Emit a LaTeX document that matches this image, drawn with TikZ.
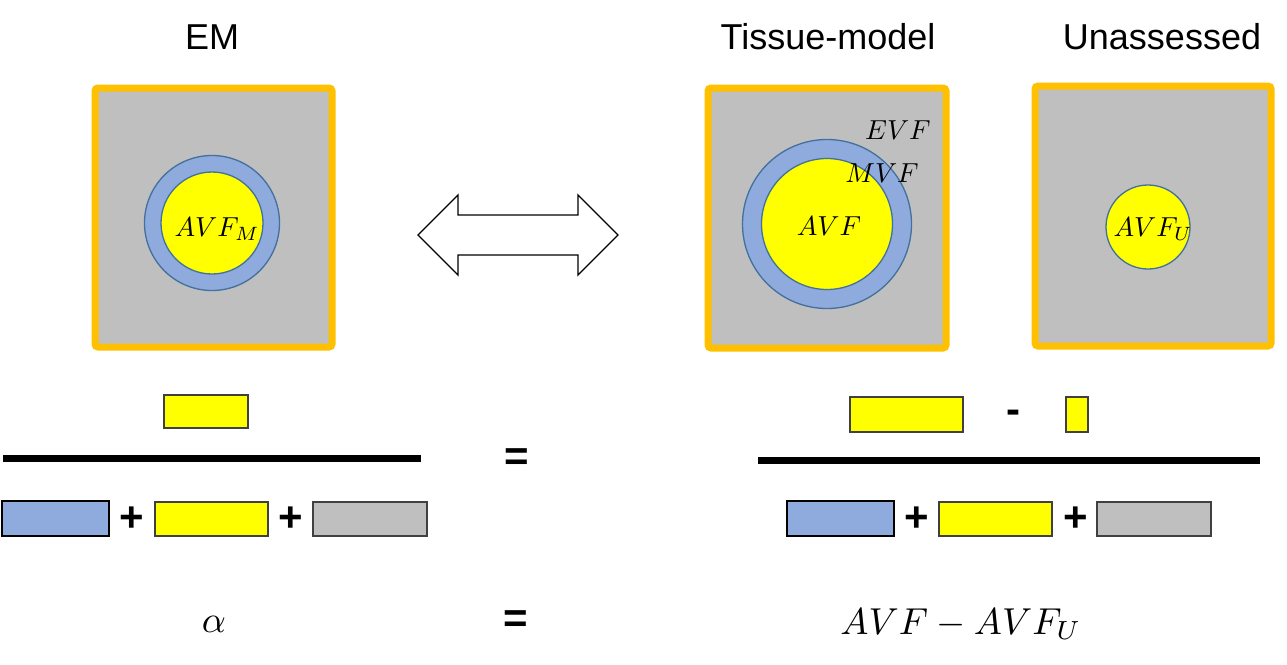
\documentclass[tikz,border=0pt]{standalone}
\usepackage{fontspec}
\setmainfont{Liberation Sans}
\begin{document}
\begin{tikzpicture}[x=1pt,y=-1pt,
  frame/.style={draw=orangeF,line width=7pt,fill=grayF,rounded corners=3pt},
  ring/.style={circle,draw=ringline,line width=1.3pt,fill=blueF,inner sep=0pt},
  core/.style={circle,draw=ringline,line width=1.3pt,fill=yellowF,inner sep=0pt},
  title/.style={font=\fontsize{36}{40}\selectfont},
  lbl/.style={scale=2.75,inner sep=0pt},
  bigm/.style={scale=3.75,inner sep=0pt},
  sym/.style={font=\fontsize{42}{46}\selectfont\bfseries,inner sep=0pt},
  bar/.style={line width=7pt},
  blk/.style={draw=boxline,line width=1.2pt},
]
\definecolor{orangeF}{HTML}{FFC000}
\definecolor{grayF}{HTML}{BFBFBF}
\definecolor{blueF}{HTML}{8FAADC}
\definecolor{yellowF}{HTML}{FFFF00}
\definecolor{ringline}{HTML}{41719C}
\definecolor{boxline}{HTML}{404040}
\useasboundingbox (0,0) rectangle (1287,664);

% titles
\node[title] (tEM) at (212,37) {EM};
\node[title] (tTM) at (828,37) {Tissue-model};
\node[title] (tUN) at (1162,37) {Unassessed};

% EM panel
\draw[frame] (95,88) rectangle (332,347);
\node[ring,minimum size=135pt] (emo) at (212,223) {};
\node[core,minimum size=102pt] (emi) at (212,223) {};
\node[lbl] (emt) at (217,229) {$AVF_M$};

% Tissue-model panel
\draw[frame] (708,88) rectangle (946,348);
\node[ring,minimum size=169pt] (tmo) at (827,224) {};
\node[core,minimum size=131pt] (tmi) at (827,224) {};
\node[lbl] (tma) at (829,226) {$AVF$};
\node[lbl] (tme) at (898,130) {$EVF$};
\node[lbl] (tmm) at (882,173) {$MVF$};

% Unassessed panel
\draw[frame] (1035,86) rectangle (1271,346);
\node[core,minimum size=84pt] (uni) at (1148,227) {};
\node[lbl] (unt) at (1153,229) {$AVF_U$};

% double arrow
\draw[line width=1.3pt,fill=white,line join=miter]
  (418,235) -- (458,195) -- (458,215) -- (578,215) -- (578,195) -- (618,235)
  -- (578,275) -- (578,255) -- (458,255) -- (458,275) -- cycle;

% left fraction
\draw[blk,fill=yellowF] (164,395) rectangle (248,428);
\draw[bar] (3,458) -- (421,458);
\draw[blk,draw=black,fill=blueF] (2,501) rectangle (109,536);
\node[sym] (lp1) at (132,519) {+};
\draw[blk,fill=yellowF] (155,502) rectangle (268,536);
\node[sym] (lp2) at (291,519) {+};
\draw[blk,fill=grayF] (313,502) rectangle (427,536);

\node[sym] (eq1) at (517,460) {=};

% right fraction
\draw[blk,fill=yellowF] (850,397) rectangle (963,432);
\node[sym] (mn) at (1013,417) {-};
\draw[blk,fill=yellowF] (1066,397) rectangle (1088,432);
\draw[bar] (758,460) -- (1260,460);
\draw[blk,draw=black,fill=blueF] (787,501) rectangle (894,536);
\node[sym] (rp1) at (917,519) {+};
\draw[blk,fill=yellowF] (939,502) rectangle (1052,536);
\node[sym] (rp2) at (1076,519) {+};
\draw[blk,fill=grayF] (1097,502) rectangle (1211,536);

% bottom equation
\node[bigm] (al) at (214,624) {$\alpha$};
\node[sym] (eq2) at (516,622) {=};
\node[bigm] (rhs) at (961,624) {$AVF-AVF_U$};
\end{tikzpicture}
\end{document}
